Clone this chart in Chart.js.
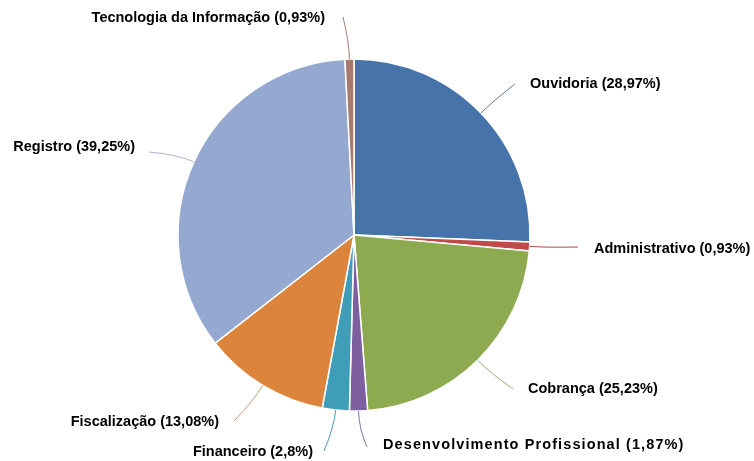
<!DOCTYPE html>
<html>
<head>
<meta charset="utf-8">
<script src="https://cdn.jsdelivr.net/npm/chart.js@4/dist/chart.umd.min.js"></script>
<style>
  html, body { margin: 0; padding: 0; background: #fff; }
  #wrap { width: 754px; height: 461px; }
</style>
</head>
<body>
<div id="wrap"><canvas id="pieChart" width="754" height="461"></canvas></div>
<script>
const categories = ['Ouvidoria', 'Administrativo', 'Cobrança', 'Desenvolvimento Profissional',
    'Financeiro', 'Fiscalização', 'Registro', 'Tecnologia da Informação'];
const percentages = [28.97, 0.93, 25.23, 1.87, 2.8, 13.08, 39.25, 0.93];
const percentLabels = ['28,97%', '0,93%', '25,23%', '1,87%', '2,8%', '13,08%', '39,25%', '0,93%'];

const sliceColors = ['#4673AA', '#BE4B48', '#8DAA50', '#7D5FA0', '#3F9DB8', '#DC843B', '#94A8D0', '#A67A6E'];
const lineColors = ['#5F7FA8', '#B04A48', '#9AA873', '#8070A0', '#4D9AB0', '#C99A78', '#A8B4D0', '#A07E74'];

// where each label sits: text anchor x, y, alignment, end of leader line, extra letter spacing
const labelSpots = [
    { x: 530, y: 84, align: 'left', ex: 515, ey: 84, sp: 0 },
    { x: 594, y: 249, align: 'left', ex: 578, ey: 247, sp: 0 },
    { x: 528, y: 389, align: 'left', ex: 513, ey: 389, sp: 0 },
    { x: 383, y: 445, align: 'left', ex: 367, ey: 447, sp: 1.1 },
    { x: 313, y: 452, align: 'right', ex: 324, ey: 451, sp: 0 },
    { x: 219, y: 422, align: 'right', ex: 234, ey: 421, sp: 0 },
    { x: 135, y: 147, align: 'right', ex: 149, ey: 152, sp: 0 },
    { x: 325, y: 18, align: 'right', ex: 343, ey: 17, sp: 0 }
];

function drawSpaced(ctx, text, x, y, align, sp) {
    if (!sp) {
        ctx.textAlign = align;
        ctx.fillText(text, x, y);
        return;
    }
    const chars = Array.from(text);
    let total = 0;
    chars.forEach(c => { total += ctx.measureText(c).width + sp; });
    total -= sp;
    let cur = align === 'right' ? x - total : x;
    ctx.textAlign = 'left';
    chars.forEach(c => {
        ctx.fillText(c, cur, y);
        cur += ctx.measureText(c).width + sp;
    });
}

const outsideLabels = {
    id: 'outsideLabels',
    afterDatasetsDraw(chart) {
        const ctx = chart.ctx;
        const arcs = chart.getDatasetMeta(0).data;
        ctx.save();
        arcs.forEach((arc, i) => {
            const spot = labelSpots[i];
            const mid = (arc.startAngle + arc.endAngle) / 2;
            const r = arc.outerRadius;
            const sx = arc.x + Math.cos(mid) * r;
            const sy = arc.y + Math.sin(mid) * r;
            const cx = arc.x + Math.cos(mid) * (r + 18);
            const cy = arc.y + Math.sin(mid) * (r + 18);
            ctx.beginPath();
            ctx.moveTo(sx, sy);
            ctx.quadraticCurveTo(cx, cy, spot.ex, spot.ey);
            ctx.strokeStyle = lineColors[i];
            ctx.lineWidth = 1;
            ctx.stroke();

            ctx.fillStyle = '#000';
            ctx.font = 'bold 14.5px "Liberation Sans", Arial, sans-serif';
            ctx.textBaseline = 'middle';
            drawSpaced(ctx, categories[i] + ' (' + percentLabels[i] + ')', spot.x, spot.y, spot.align, spot.sp);
        });
        ctx.restore();
    }
};

new Chart(document.getElementById('pieChart'), {
    type: 'pie',
    data: {
        labels: categories,
        datasets: [{
            data: percentages,
            backgroundColor: sliceColors,
            borderColor: '#ffffff',
            borderWidth: 1.5,
            hoverOffset: 0,
            radius: 176
        }]
    },
    options: {
        responsive: false,
        animation: false,
        events: [],
        layout: {
            padding: { left: 177, right: 223, top: 59, bottom: 50 }
        },
        plugins: {
            legend: { display: false },
            tooltip: { enabled: false }
        }
    },
    plugins: [outsideLabels]
});
</script>
</body>
</html>
